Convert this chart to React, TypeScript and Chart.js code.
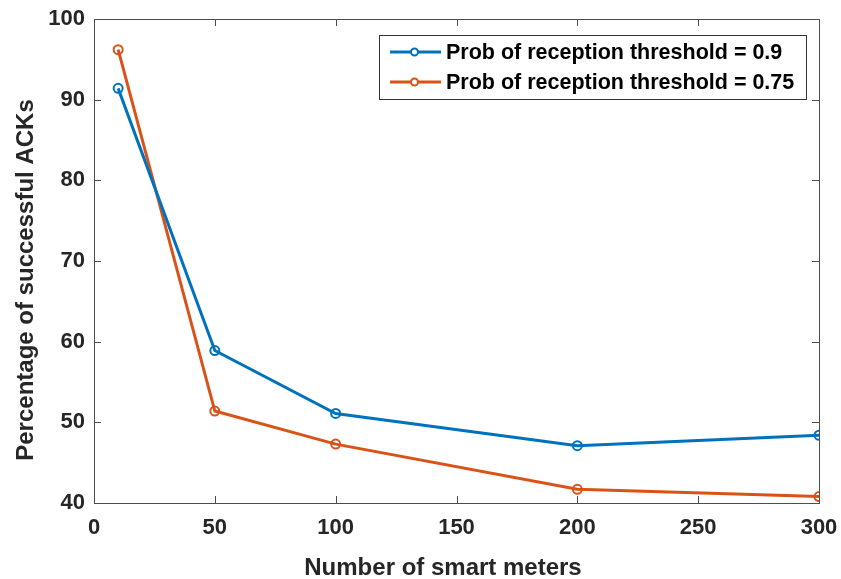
import React, { useEffect, useRef } from "react";
import { Chart, registerables } from "chart.js";

Chart.register(...registerables);

const xValues = [10, 50, 100, 200, 300];
const seriesA = [91.4, 58.9, 51.1, 47.1, 48.4];
const seriesB = [96.2, 51.4, 47.3, 41.7, 40.8];
const seriesNames = ["Prob of reception threshold = 0.9", "Prob of reception threshold = 0.75"];
const seriesColors = ["#0072BD", "#D95319"];
const xTitle = "Number of smart meters";
const yTitle = "Percentage of successful ACKs";

const FONT = "'Liberation Sans', Arial, Helvetica, sans-serif";
const TEXT = "#262626";
const AXIS = "#4d4d4d";

const boxPlugin = {
  id: "matlabBox",
  afterDraw(chart: any) {
    const { ctx, chartArea: a, scales } = chart;
    const xs = scales.x;
    const ys = scales.y;
    ctx.save();
    ctx.strokeStyle = AXIS;
    ctx.lineWidth = 1;
    ctx.strokeRect(Math.round(a.left) + 0.5, Math.round(a.top) + 0.5, Math.round(a.right - a.left), Math.round(a.bottom - a.top));
    const tl = 7;
    ctx.beginPath();
    xs.ticks.forEach((t: any) => {
      const px = Math.round(xs.getPixelForValue(t.value)) + 0.5;
      ctx.moveTo(px, a.bottom);
      ctx.lineTo(px, a.bottom - tl);
      ctx.moveTo(px, a.top);
      ctx.lineTo(px, a.top + tl);
    });
    ys.ticks.forEach((t: any) => {
      const py = Math.round(ys.getPixelForValue(t.value)) + 0.5;
      ctx.moveTo(a.left, py);
      ctx.lineTo(a.left + tl, py);
      ctx.moveTo(a.right, py);
      ctx.lineTo(a.right - tl, py);
    });
    ctx.stroke();

    // axis titles
    ctx.fillStyle = TEXT;
    ctx.font = `bold 24px ${FONT}`;
    ctx.textAlign = "center";
    ctx.textBaseline = "alphabetic";
    ctx.fillText(xTitle, 443, 575);
    ctx.save();
    ctx.translate(33, 280);
    ctx.rotate(-Math.PI / 2);
    ctx.fillText(yTitle, 0, 0);
    ctx.restore();

    // legend
    const L = 379, T = 35, R = 806, B = 99;
    ctx.fillStyle = "#ffffff";
    ctx.fillRect(L, T, R - L, B - T);
    ctx.strokeStyle = "#333333";
    ctx.lineWidth = 1;
    ctx.strokeRect(L + 0.5, T + 0.5, R - L, B - T);
    const rows = [52, 82];
    rows.forEach((ry, i) => {
      ctx.strokeStyle = seriesColors[i];
      ctx.lineWidth = 3;
      ctx.beginPath();
      ctx.moveTo(390, ry);
      ctx.lineTo(441, ry);
      ctx.stroke();
      ctx.beginPath();
      ctx.arc(414.5, ry, 3.5, 0, Math.PI * 2);
      ctx.fillStyle = "#ffffff";
      ctx.fill();
      ctx.lineWidth = 2;
      ctx.stroke();
      ctx.fillStyle = "#000000";
      ctx.font = `bold 21.5px ${FONT}`;
      ctx.textBaseline = "middle";
      ctx.textAlign = "left";
      ctx.fillText(seriesNames[i], 446, ry + 1);
    });
    ctx.restore();
  },
};

const noPad = (s: any) => {
  s.paddingLeft = 0;
  s.paddingRight = 0;
  s.paddingTop = 0;
  s.paddingBottom = 0;
};

export default function App() {
  const ref = useRef<HTMLCanvasElement>(null);
  useEffect(() => {
    if (!ref.current) return;
    const mk = (vals: number[], i: number) => ({
      label: seriesNames[i],
      data: xValues.map((x, k) => ({ x, y: vals[k] })),
      borderColor: seriesColors[i],
      backgroundColor: seriesColors[i],
      borderWidth: 3,
      pointRadius: 4.5,
      pointBorderWidth: 2,
      pointBackgroundColor: "rgba(0,0,0,0)",
      pointBorderColor: seriesColors[i],
      tension: 0,
    });
    const chart = new Chart(ref.current, {
      type: "line",
      data: { datasets: [mk(seriesA, 0), mk(seriesB, 1)] },
      options: {
        animation: false,
        responsive: false,
        layout: { padding: { top: 19, right: 22, left: 0, bottom: 0 } },
        plugins: { legend: { display: false }, tooltip: { enabled: false } },
        scales: {
          x: {
            type: "linear",
            min: 0,
            max: 300,
            ticks: { stepSize: 50, color: TEXT, font: { family: FONT, size: 22, weight: "bold" }, padding: 12, maxRotation: 0 },
            grid: { display: false, drawTicks: false },
            border: { display: false },
            title: { display: false },
            afterFit: (s: any) => { s.height = 76; noPad(s); },
          },
          y: {
            min: 40,
            max: 100,
            ticks: { stepSize: 10, color: TEXT, font: { family: FONT, size: 22, weight: "bold" }, padding: 9 },
            grid: { display: false, drawTicks: false },
            border: { display: false },
            title: { display: false },
            afterFit: (s: any) => { s.width = 94; noPad(s); },
          },
        },
      } as any,
      plugins: [boxPlugin],
    });
    return () => chart.destroy();
  }, []);
  return (
    <div style={{ position: "fixed", left: 0, top: 0, width: 841, height: 579, background: "#fff" }}>
      <canvas ref={ref} width={841} height={579} style={{ width: 841, height: 579, display: "block" }} />
    </div>
  );
}
